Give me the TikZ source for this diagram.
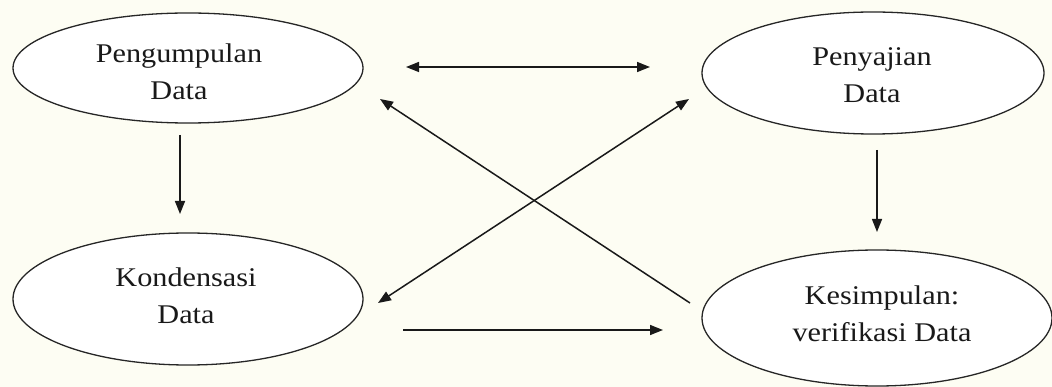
\documentclass[tikz,border=0pt]{standalone}
\usepackage{fontspec}
\setmainfont{Liberation Serif}
\usetikzlibrary{shapes.geometric,arrows.meta}
\definecolor{bgcream}{HTML}{FDFDF3}
\begin{document}
\begin{tikzpicture}[x=1pt,y=-1pt,
  oval/.style={draw=black!85,line width=1.3pt,ellipse,inner sep=0pt,fill=white},
  lbl/.style={font=\fontsize{27}{37}\selectfont,align=center,inner sep=0pt,text=black!90,xscale=1.12,transform shape},
  conn/.style={draw=black!90,line width=1.5pt,-{Triangle[length=13pt,width=10pt]}},
  dconn/.style={draw=black!90,line width=1.5pt,{Triangle[length=13pt,width=10pt]}-{Triangle[length=13pt,width=10pt]}}]
\fill[bgcream] (0,0) rectangle (1052,387);
\useasboundingbox (0,0) rectangle (1052,387);
% ellipses
\node[oval,minimum width=350pt,minimum height=110pt] (pd) at (188,68) {};
\node[oval,minimum width=342pt,minimum height=122pt] (py) at (873,73) {};
\node[oval,minimum width=350pt,minimum height=132pt] (kd) at (188,299) {};
\node[oval,minimum width=350pt,minimum height=136pt] (ks) at (877,318) {};
% texts
\node[lbl] (tpd) at (179,72) {Pengumpulan\\Data};
\node[lbl] (tpy) at (872,75) {Penyajian\\Data};
\node[lbl] (tkd) at (186,296) {Kondensasi\\Data};
\node[lbl] (tks) at (882,314) {Kesimpulan:\\verifikasi Data};
% connector end points
\coordinate (a1) at (406,67);
\coordinate (a2) at (650,67);
\coordinate (b1) at (690,303);
\coordinate (b2) at (380,99);
\coordinate (c1) at (378,303);
\coordinate (c2) at (689,99);
\coordinate (d1) at (403,330);
\coordinate (d2) at (663,330);
\coordinate (e1) at (180,135);
\coordinate (e2) at (180,214);
\coordinate (f1) at (877,150);
\coordinate (f2) at (877,232);
% connectors
\draw[dconn] (a1) -- (a2);
\draw[conn] (b1) -- (b2);
\draw[dconn] (c1) -- (c2);
\draw[conn] (d1) -- (d2);
\draw[conn] (e1) -- (e2);
\draw[conn] (f1) -- (f2);
\end{tikzpicture}
\end{document}
